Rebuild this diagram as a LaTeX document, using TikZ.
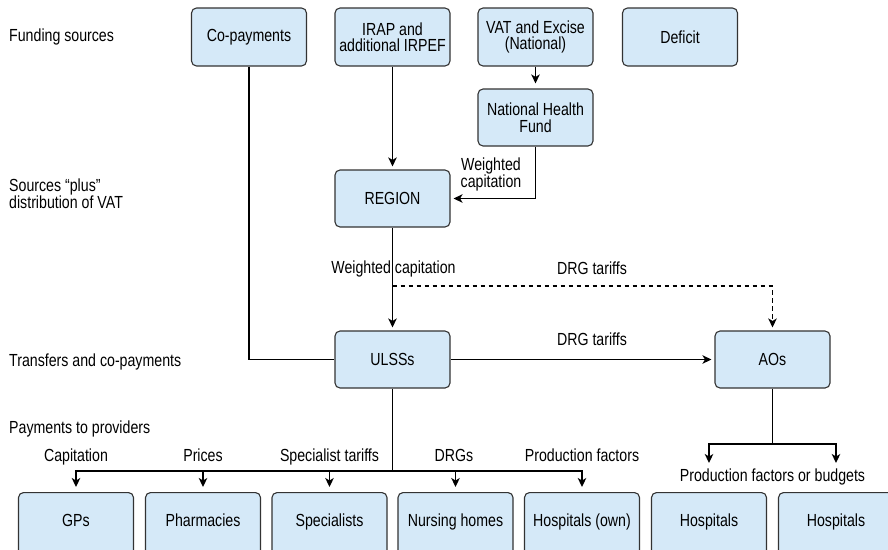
\documentclass[tikz,border=0pt]{standalone}
\usepackage{fontspec}
\setmainfont[FakeStretch=0.81]{Liberation Sans}
\usetikzlibrary{arrows.meta}
\definecolor{boxfill}{HTML}{D5E9F8}
\definecolor{boxline}{HTML}{333333}
\newcommand{\fs}{\fontsize{17.5}{16.5}\selectfont\lineskiplimit=0pt\lineskip=0pt}
\tikzset{
  box/.style={draw=boxline, fill=boxfill, line width=1.1pt, rounded corners=5pt,
    minimum width=115pt, minimum height=57pt, align=center, inner sep=2pt, font=\fs},
  botbox/.style={box, anchor=north, minimum height=0pt, text height=34pt, text depth=40pt, inner ysep=0pt},
  lbl/.style={inner sep=0pt, font=\fs},
  conn/.style={line width=1.4pt, draw=black},
  arr/.style={conn, -{Stealth[length=9pt,width=8.5pt,inset=2.5pt]}, shorten >=3pt},
}
\begin{document}
\begin{tikzpicture}[x=1pt,y=-1pt]
\useasboundingbox (0,0) rectangle (888,549);

% top row
\node[box, minimum height=58pt] (copay) at (249,37) {Co-payments};
\node[box, minimum height=58pt] (irap) at (392.5,37) {IRAP and\\additional IRPEF};
\node[box, minimum height=58pt] (vat) at (535.5,37) {VAT and Excise\\(National)};
\node[box, minimum height=58pt] (deficit) at (680,37) {Deficit};
\node[box] (nhf) at (535.5,117.5) {National Health\\Fund};
\node[box] (region) at (392.5,198.5) {REGION};
\node[box] (ulss) at (392.5,359.5) {ULSSs};
\node[box] (aos) at (772.5,359.5) {AOs};

% bottom row
\node[botbox] (gps) at (76,492) {GPs};
\node[botbox] (pharm) at (203,492) {Pharmacies};
\node[botbox] (spec) at (329.5,492) {Specialists};
\node[botbox] (nurs) at (455.5,492) {Nursing homes};
\node[botbox] (hown) at (582,492) {Hospitals (own)};
\node[botbox] (hosp1) at (709,492) {Hospitals};
\node[botbox] (hosp2) at (836,492) {Hospitals};

% left row labels
\node[lbl, anchor=base west] (l1) at (9,41) {Funding sources};
\node[lbl, anchor=base west, align=left] (l2) at (9,208) {Sources “plus”\\distribution of VAT};
\node[lbl, anchor=base west] (l3) at (9,366) {Transfers and co-payments};
\node[lbl, anchor=base west] (l4) at (9,433.3) {Payments to providers};

% connector labels
\node[lbl, anchor=base, align=center] (wc1) at (491,187) {Weighted\\capitation};
\node[lbl, anchor=base] (wc2) at (393.5,273) {Weighted capitation};
\node[lbl, anchor=base] (drg1) at (592,274) {DRG tariffs};
\node[lbl, anchor=base] (drg2) at (592,345) {DRG tariffs};
\node[lbl, anchor=base] (pcap) at (76,461.7) {Capitation};
\node[lbl, anchor=base] (ppri) at (203,461.7) {Prices};
\node[lbl, anchor=base] (pspe) at (329.5,461.7) {Specialist tariffs};
\node[lbl, anchor=base] (pdrg) at (454,461.7) {DRGs};
\node[lbl, anchor=base] (ppro) at (582,461.7) {Production factors};
\node[lbl, anchor=base] (pfb) at (772.5,481.7) {Production factors or budgets};

% coordinates
\coordinate (dj) at (392.5,286);
\coordinate (bus) at (392.5,471);
\coordinate (abus) at (772.5,444);
\coordinate (h1a) at (709,466);
\coordinate (h2a) at (836,466);

% connectors
\draw[conn] (copay.south) |- (ulss.west);
\draw[arr] (irap.south) -- (region.north);
\draw[arr, shorten >=5pt] (vat.south) -- (nhf.north);
\draw[arr] (nhf.south) |- (region.east);
\draw[arr] (region.south) -- (ulss.north);
\draw[arr, dash pattern=on 4.5pt off 3.5pt] (dj) -| (aos.north);
\draw[arr] (ulss.east) -- (aos.west);
\draw[conn] (ulss.south) -- (bus);
\foreach \b in {gps,pharm,spec,nurs,hown}{
  \draw[arr, shorten >=5pt] (bus) -| (\b.north);
}
\draw[conn] (aos.south) -- (abus);
\draw[arr] (abus) -| (h1a);
\draw[arr] (abus) -| (h2a);
\end{tikzpicture}
\end{document}
